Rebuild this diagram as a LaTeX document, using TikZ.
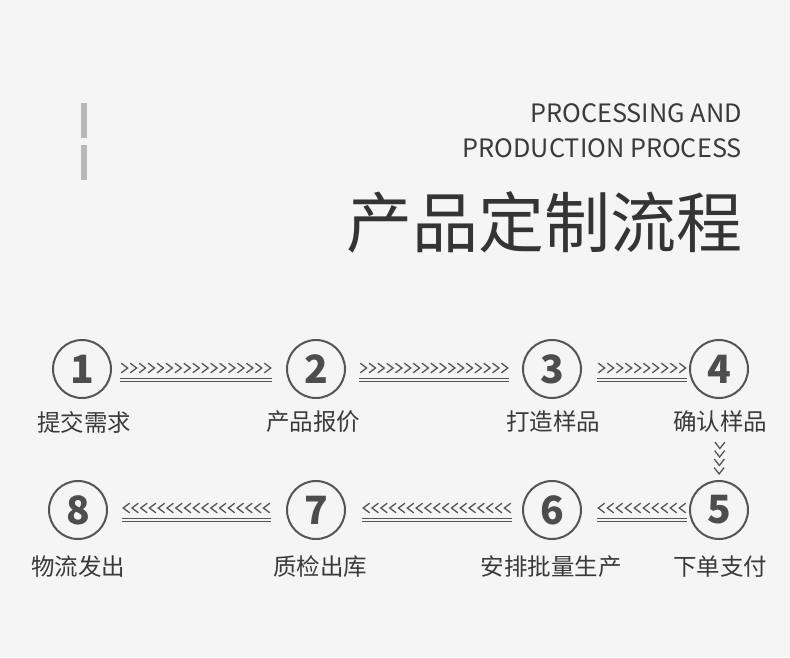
\documentclass[tikz,border=0pt]{standalone}
\usepackage{fontspec}
\setmainfont{Noto Sans CJK SC}
\usetikzlibrary{calc}
\definecolor{bgc}{HTML}{F5F5F5}
\definecolor{ink}{HTML}{3A3A3A}
\definecolor{numc}{HTML}{4D4D4D}
\definecolor{ringc}{HTML}{555555}
\definecolor{barc}{HTML}{B8B8B8}
\tikzset{
  numcirc/.style={circle,draw=ringc,line width=2pt,minimum size=58pt,inner sep=0pt,
    text=numc,font=\fontsize{39}{39}\selectfont\bfseries},
  lab/.style={text=ink,font=\fontsize{23.5}{23.5}\selectfont,inner sep=0pt},
  rail/.style={draw=ringc,line width=1pt},
  chevline/.style={draw=ringc,line width=1.3pt},
  chevr/.pic={\draw[chevline] (-3.2,-4.8) -- (3.2,0) -- (-3.2,4.8);},
  chevl/.pic={\draw[chevline] (3.2,-4.8) -- (-3.2,0) -- (3.2,4.8);},
  chevd/.pic={\draw[chevline] (-5,-3.2) -- (0,3.2) -- (5,-3.2);},
}
\newcommand\flowconn[4]{%
  \draw[rail] ($(#1)+(0,10)$) -- ($(#2)+(0,10)$);
  \draw[rail] ($(#1)+(0,13)$) -- ($(#2)+(0,13)$);
  \foreach \k in {1,...,#3} \pic at ($(#1)!{(\k-0.5)/#3}!(#2)$) {#4};
}
\begin{document}
\begin{tikzpicture}[x=1pt,y=-1pt]
\fill[bgc] (0,0) rectangle (790,657);
\useasboundingbox (0,0) rectangle (790,657);
% decorative bars
\fill[barc] (81,103) rectangle (87,138);
\fill[barc] (81,145) rectangle (87,180);
% titles
\node[anchor=east,text=ink,font=\fontsize{25.3}{25.3}\selectfont,inner sep=0pt] (t1) at (742,113) {PROCESSING AND};
\node[anchor=east,text=ink,font=\fontsize{25.3}{25.3}\selectfont,inner sep=0pt] (t2) at (742,148) {PRODUCTION PROCESS};
\node[anchor=east,text=ink!90!black,font=\fontsize{66}{66}\selectfont,inner sep=0pt] (t3) at (743,222) {产品定制流程};
% circles row 1
\node[numcirc] (c1) at (82,369) {1};
\node[numcirc] (c2) at (316,369) {2};
\node[numcirc] (c3) at (552,369) {3};
\node[numcirc] (c4) at (719,369) {4};
% circles row 2
\node[numcirc] (c8) at (78,510) {8};
\node[numcirc] (c7) at (316,510) {7};
\node[numcirc] (c6) at (552,510) {6};
\node[numcirc] (c5) at (719,510) {5};
% labels
\node[lab] (l1) at (84,422) {提交需求};
\node[lab] (l2) at (313,422) {产品报价};
\node[lab] (l3) at (553,422) {打造样品};
\node[lab] (l4) at (720,422) {确认样品};
\node[lab] (l8) at (78,567) {物流发出};
\node[lab] (l7) at (320,567) {质检出库};
\node[lab] (l6) at (551,567) {安排批量生产};
\node[lab] (l5) at (720,567) {下单支付};
% connector endpoints
\coordinate (a1) at ($(c1.east)+(8,-1)$);  \coordinate (b1) at ($(c2.west)+(-14,-1)$);
\coordinate (a2) at ($(c2.east)+(13,-1)$); \coordinate (b2) at ($(c3.west)+(-13,-1)$);
\coordinate (a3) at ($(c3.east)+(15,-1)$); \coordinate (b3) at ($(c4.west)+(-2,-1)$);
\coordinate (a4) at ($(c5.west)+(-2,-2)$); \coordinate (b4) at ($(c6.east)+(15,-2)$);
\coordinate (a5) at ($(c6.west)+(-10,-2)$); \coordinate (b5) at ($(c7.east)+(16,-2)$);
\coordinate (a6) at ($(c7.west)+(-15,-2)$); \coordinate (b6) at ($(c8.east)+(14,-2)$);
\flowconn{a1}{b1}{17}{chevr}
\flowconn{a2}{b2}{17}{chevr}
\flowconn{a3}{b3}{10}{chevr}
\flowconn{b4}{a4}{10}{chevl}
\flowconn{b5}{a5}{17}{chevl}
\flowconn{b6}{a6}{17}{chevl}
% vertical 4 -> 5
\coordinate (v1) at ($(l4.south)+(0,8)$);
\coordinate (v2) at ($(c5.north)+(0,-5)$);
\foreach \k in {1,...,4} \pic at ($(v1)!{(\k-0.5)/4}!(v2)$) {chevd};
\end{tikzpicture}
\end{document}
